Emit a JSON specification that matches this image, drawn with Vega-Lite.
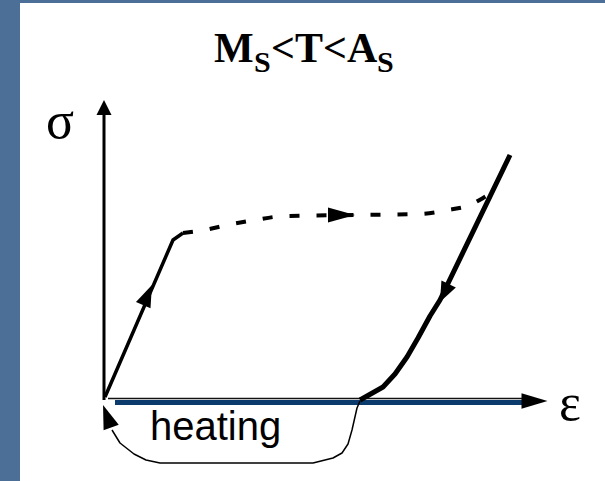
{
  "$schema": "https://vega.github.io/schema/vega-lite/v6.json",
  "autosize": {"type": "fit", "contains": "padding"},
  "width": 605,
  "height": 481,
  "padding": {"left": 20, "top": 3, "right": 0, "bottom": 0},
  "background": "#4b6f97",
  "config": {"view": {"stroke": null, "fill": "white"}},
  "datasets": {
    "lines": [
      {"part": "eps_axis", "order": 1, "x": 11, "y": -2.5},
      {"part": "eps_axis", "order": 2, "x": 420, "y": -2.5},
      {"part": "eps_axis_edge", "order": 1, "x": 4, "y": 1.5},
      {"part": "eps_axis_edge", "order": 2, "x": 422, "y": 1.5},
      {"part": "sigma_axis", "order": 1, "x": 0, "y": 0},
      {"part": "sigma_axis", "order": 2, "x": 0, "y": 290},
      {"part": "loading", "order": 1, "x": 1, "y": 3},
      {"part": "loading", "order": 2, "x": 69, "y": 160},
      {"part": "loading", "order": 3, "x": 79, "y": 167},
      {"part": "plateau", "order": 1, "x": 79, "y": 167},
      {"part": "plateau", "order": 2, "x": 101, "y": 170},
      {"part": "plateau", "order": 3, "x": 123, "y": 175},
      {"part": "plateau", "order": 4, "x": 151, "y": 180},
      {"part": "plateau", "order": 5, "x": 181, "y": 184},
      {"part": "plateau", "order": 6, "x": 251, "y": 185},
      {"part": "plateau", "order": 7, "x": 316, "y": 186},
      {"part": "plateau", "order": 8, "x": 344, "y": 190},
      {"part": "plateau", "order": 9, "x": 366, "y": 195},
      {"part": "plateau", "order": 10, "x": 379, "y": 202},
      {"part": "plateau", "order": 11, "x": 384, "y": 205},
      {"part": "unloading", "order": 1, "x": 406, "y": 245},
      {"part": "unloading", "order": 2, "x": 336, "y": 100},
      {"part": "unloading", "order": 3, "x": 326, "y": 84},
      {"part": "unloading", "order": 4, "x": 314, "y": 62},
      {"part": "unloading", "order": 5, "x": 303, "y": 43},
      {"part": "unloading", "order": 6, "x": 291, "y": 26},
      {"part": "unloading", "order": 7, "x": 279, "y": 13},
      {"part": "unloading", "order": 8, "x": 256, "y": 0},
      {"part": "heating", "order": 1, "x": 256, "y": -1},
      {"part": "heating", "order": 2, "x": 253, "y": -8},
      {"part": "heating", "order": 3, "x": 248, "y": -30},
      {"part": "heating", "order": 4, "x": 244, "y": -44},
      {"part": "heating", "order": 5, "x": 238, "y": -53},
      {"part": "heating", "order": 6, "x": 229, "y": -58},
      {"part": "heating", "order": 7, "x": 209, "y": -63},
      {"part": "heating", "order": 8, "x": 56, "y": -63},
      {"part": "heating", "order": 9, "x": 42, "y": -60},
      {"part": "heating", "order": 10, "x": 30, "y": -54},
      {"part": "heating", "order": 11, "x": 16, "y": -43},
      {"part": "heating", "order": 12, "x": 8, "y": -30}
    ],
    "arrows": [
      {"arrow": "sigma_tip", "x": 0, "y": 292.5},
      {"arrow": "eps_tip", "x": 430.5, "y": -1},
      {"arrow": "plateau_arrow", "x": 237.5, "y": 185},
      {"arrow": "loading_arrow", "x": 43.6, "y": 104.9},
      {"arrow": "unloading_arrow", "x": 340.3, "y": 107},
      {"arrow": "heating_arrow", "x": 3.1, "y": -16.3}
    ],
    "labels": [
      {"kind": "axis", "text": "σ", "x": -44, "y": 278},
      {"kind": "axis", "text": "ε", "x": 466, "y": -4},
      {"kind": "note", "text": "heating", "x": 46, "y": -40},
      {"kind": "title", "text": "M", "x": 110, "y": 338},
      {"kind": "sub", "text": "S", "x": 150, "y": 328},
      {"kind": "title", "text": "<T<A", "x": 167, "y": 338},
      {"kind": "sub", "text": "S", "x": 273, "y": 328}
    ]
  },
  "encoding": {
    "x": {"field": "x", "type": "quantitative", "scale": {"domain": [-84, 501], "nice": false, "zero": false}, "axis": null},
    "y": {"field": "y", "type": "quantitative", "scale": {"domain": [-81, 397], "nice": false, "zero": false}, "axis": null}
  },
  "layer": [
    {"data": {"name": "lines"}, "transform": [{"filter": "datum.part === 'eps_axis'"}],
     "mark": {"type": "line", "color": "#0b3a6c", "strokeWidth": 5}, "encoding": {"order": {"field": "order"}}},
    {"data": {"name": "lines"}, "transform": [{"filter": "datum.part === 'eps_axis_edge'"}],
     "mark": {"type": "line", "color": "#111111", "strokeWidth": 1.5}, "encoding": {"order": {"field": "order"}}},
    {"data": {"name": "lines"}, "transform": [{"filter": "datum.part === 'sigma_axis'"}],
     "mark": {"type": "line", "color": "black", "strokeWidth": 3}, "encoding": {"order": {"field": "order"}}},
    {"data": {"name": "lines"}, "transform": [{"filter": "datum.part === 'loading'"}],
     "mark": {"type": "line", "color": "black", "strokeWidth": 3.5}, "encoding": {"order": {"field": "order"}}},
    {"data": {"name": "lines"}, "transform": [{"filter": "datum.part === 'plateau'"}],
     "mark": {"type": "line", "color": "black", "strokeWidth": 4, "strokeDash": [10, 17], "interpolate": "monotone"}, "encoding": {"order": {"field": "order"}}},
    {"data": {"name": "lines"}, "transform": [{"filter": "datum.part === 'unloading'"}],
     "mark": {"type": "line", "color": "black", "strokeWidth": 5, "strokeJoin": "round"}, "encoding": {"order": {"field": "order"}}},
    {"data": {"name": "lines"}, "transform": [{"filter": "datum.part === 'heating'"}],
     "mark": {"type": "line", "color": "black", "strokeWidth": 1.5, "strokeJoin": "round"}, "encoding": {"order": {"field": "order"}}},
    {"data": {"name": "arrows"}, "transform": [{"filter": "datum.arrow === 'sigma_tip'"}],
     "mark": {"type": "point", "filled": true, "opacity": 1, "color": "black", "shape": "M0,-1L-1,1L1,1Z", "size": 225, "angle": 0}},
    {"data": {"name": "arrows"}, "transform": [{"filter": "datum.arrow === 'eps_tip'"}],
     "mark": {"type": "point", "filled": true, "opacity": 1, "color": "black", "shape": "M0,-1L-0.6,1L0.6,1Z", "size": 676, "angle": 90}},
    {"data": {"name": "arrows"}, "transform": [{"filter": "datum.arrow === 'plateau_arrow'"}],
     "mark": {"type": "point", "filled": true, "opacity": 1, "color": "black", "shape": "M0,-1L-0.55,1L0.55,1Z", "size": 729, "angle": 90}},
    {"data": {"name": "arrows"}, "transform": [{"filter": "datum.arrow === 'loading_arrow'"}],
     "mark": {"type": "point", "filled": true, "opacity": 1, "color": "black", "shape": "M0,-1L-0.72,1L0.72,1Z", "size": 484, "angle": 23.4}},
    {"data": {"name": "arrows"}, "transform": [{"filter": "datum.arrow === 'unloading_arrow'"}],
     "mark": {"type": "point", "filled": true, "opacity": 1, "color": "black", "shape": "M0,-1L-0.8,1L0.8,1Z", "size": 400, "angle": 205.8}},
    {"data": {"name": "arrows"}, "transform": [{"filter": "datum.arrow === 'heating_arrow'"}],
     "mark": {"type": "point", "filled": true, "opacity": 1, "color": "black", "shape": "M0,-1L-0.67,1L0.67,1Z", "size": 576, "angle": -19.8}},
    {"data": {"name": "labels"}, "transform": [{"filter": "datum.kind === 'axis'"}],
     "mark": {"type": "text", "font": "Liberation Serif", "fontSize": 52, "color": "black", "align": "center", "baseline": "middle"},
     "encoding": {"text": {"field": "text"}}},
    {"data": {"name": "labels"}, "transform": [{"filter": "datum.kind === 'note'"}],
     "mark": {"type": "text", "font": "Liberation Sans", "fontSize": 40, "color": "black", "align": "left", "baseline": "alphabetic"},
     "encoding": {"text": {"field": "text"}}},
    {"data": {"name": "labels"}, "transform": [{"filter": "datum.kind === 'title'"}],
     "mark": {"type": "text", "font": "Liberation Serif", "fontWeight": "bold", "fontSize": 42, "color": "black", "align": "left", "baseline": "alphabetic"},
     "encoding": {"text": {"field": "text"}}},
    {"data": {"name": "labels"}, "transform": [{"filter": "datum.kind === 'sub'"}],
     "mark": {"type": "text", "font": "Liberation Serif", "fontWeight": "bold", "fontSize": 30, "color": "black", "align": "left", "baseline": "alphabetic"},
     "encoding": {"text": {"field": "text"}}}
  ]
}
